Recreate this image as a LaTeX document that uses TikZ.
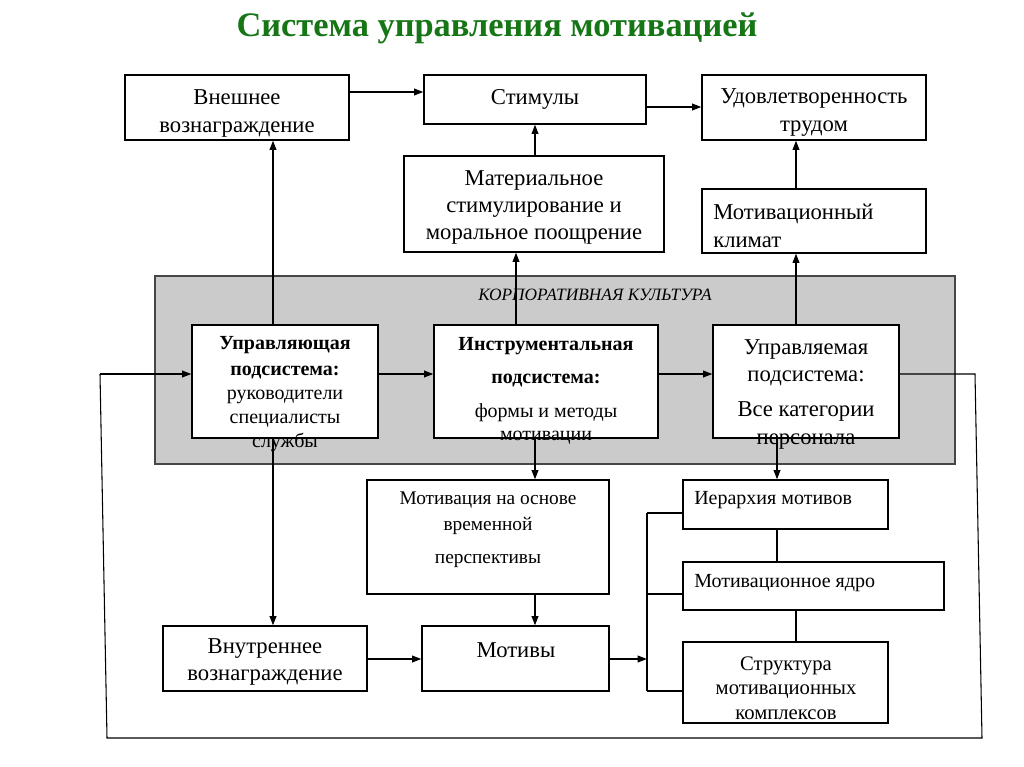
\documentclass[tikz,border=0pt]{standalone}
\usepackage{fontspec}
\setmainfont{Liberation Serif}
\usetikzlibrary{arrows.meta,fit}
\definecolor{titlegreen}{RGB}{22,118,22}
\definecolor{corpgray}{RGB}{203,203,203}
\definecolor{corpedge}{RGB}{70,70,70}
\begin{document}
\begin{tikzpicture}[x=0.75pt,y=-0.75pt,
  box/.style={draw,line width=0.9pt,fill=white,inner sep=0pt},
  corpbox/.style={draw=corpedge,line width=0.9pt,fill=corpgray,inner sep=0pt},
  txt/.style={inner sep=0pt,align=center},
  arr/.style={-{Triangle[length=7pt,width=5pt]},line width=1.2pt},
  thin/.style={line width=0.8pt},
  fbk/.style={line width=0.8pt}]
\useasboundingbox (0,0) rectangle (1024,767);
\fill[white] (0,0) rectangle (1024,767);

% title
\node[txt,font=\fontsize{25.8}{30}\selectfont\bfseries,text=titlegreen] (title) at (497,28) {Система управления мотивацией};

% top row
\node[box,fit={(125,75)(349,140)}] (ext) {};
\node[box,fit={(424,75)(646,124)}] (stim) {};
\node[box,fit={(702,75)(926,140)}] (udov) {};
\node[box,fit={(404,156)(664,252)}] (mat) {};
\node[box,fit={(702,189)(926,253)}] (clim) {};

% corporate culture
\node[corpbox,fit={(155,276)(955,464)}] (corp) {};
\node[txt,font=\fontsize{13}{15}\selectfont\itshape] (corpt) at (595,295) {КОРПОРАТИВНАЯ КУЛЬТУРА};
\node[box,fit={(192,325)(378,438)}] (upr) {};
\node[box,fit={(434,325)(658,438)}] (ins) {};
\node[box,fit={(713,325)(899,438)}] (upm) {};

% lower part
\node[box,fit={(367,480)(609,594)}] (mtv) {};
\node[box,fit={(683,480)(888,529)}] (ier) {};
\node[box,fit={(683,562)(944,610)}] (yad) {};
\node[box,fit={(683,642)(888,723)}] (str) {};
\node[box,fit={(163,626)(367,691)}] (vnu) {};
\node[box,fit={(422,626)(609,691)}] (mot) {};

% texts
\node[txt,font=\fontsize{17}{21}\selectfont] (extt) at (237,113) {Внешнее\\вознаграждение};
\node[txt,font=\fontsize{17}{21}\selectfont] (stimt) at (535,99) {Стимулы};
\node[txt,font=\fontsize{17}{21}\selectfont] (udovt) at (814,113) {Удовлетворенность\\трудом};
\node[txt,font=\fontsize{17}{20.25}\selectfont] (matt) at (534,207) {Материальное\\стимулирование и\\моральное поощрение};
\node[txt,align=left,anchor=west,font=\fontsize{17}{21}\selectfont] (climt) at (713,226) {Мотивационный\\климат};

\node[txt,font=\fontsize{15}{18}\selectfont] (uprt) at (285,394) {\textbf{Управляющая}\\[1.5pt]\textbf{подсистема:}\\руководители\\специалисты\\службы};
\node[txt,font=\fontsize{15}{17.5}\selectfont] (inst) at (546,391) {\textbf{Инструментальная}\\[7pt]\textbf{подсистема:}\\[8pt]формы и методы\\мотивации};
\node[txt,font=\fontsize{17}{20.5}\selectfont] (upmt) at (806,394) {Управляемая\\подсистема:\\[6pt]Все категории\\персонала};

\node[txt,font=\fontsize{14.5}{19}\selectfont] (mtvt) at (488,530) {Мотивация на основе\\временной\\[6pt]перспективы};
\node[txt,anchor=west,font=\fontsize{15}{18}\selectfont] (iert) at (694,500) {Иерархия мотивов};
\node[txt,anchor=west,font=\fontsize{15}{18}\selectfont] (yadt) at (694,583) {Мотивационное ядро};
\node[txt,font=\fontsize{15.5}{18.5}\selectfont] (strt) at (786,688) {Структура\\мотивационных\\комплексов};
\node[txt,font=\fontsize{17}{20}\selectfont] (vnut) at (265,662) {Внутреннее\\вознаграждение};
\node[txt,font=\fontsize{17}{20}\selectfont] (mott) at (516,650) {Мотивы};

% helper coordinates
\coordinate (h92) at (0,92);
\coordinate (h107) at (0,107);
\coordinate (h374) at (0,374);
\coordinate (h658) at (0,659);
\coordinate (v273) at (273,0);
\coordinate (v516) at (516,0);
\coordinate (v535) at (535,0);
\coordinate (v776) at (777,0);
\coordinate (v796) at (796,0);

% top arrows
\draw[arr] (ext.east |- h92) -- (stim.west |- h92);
\draw[arr] (stim.east |- h107) -- (udov.west |- h107);
\draw[arr] (mat.north -| v535) -- (stim.south -| v535);
\draw[arr] (clim.north -| v796) -- (udov.south -| v796);
\draw[arr] (upr.north -| v273) -- (ext.south -| v273);
\draw[arr] (ins.north -| v516) -- (mat.south -| v516);
\draw[arr] (upm.north -| v796) -- (clim.south -| v796);

% middle arrows
\draw[arr] (upr.east |- h374) -- (ins.west |- h374);
\draw[arr] (ins.east |- h374) -- (upm.west |- h374);

% down arrows
\draw[arr] (upr.south -| v273) -- (vnu.north -| v273);
\draw[arr] (ins.south -| v535) -- (mtv.north -| v535);
\draw[arr] (upm.south -| v776) -- (ier.north -| v776);
\draw[arr] (mtv.south -| v535) -- (mot.north -| v535);
\draw[arr] (vnu.east |- h658) -- (mot.west |- h658);

% bracket
\coordinate (bt) at (647,513);
\coordinate (bm) at (647,594);
\coordinate (bb) at (647,691);
\coordinate (ba) at (647,659);
\draw[arr] (mot.east |- h658) -- (ba);
\draw[thin] (bt) -- (bb);
\draw[thin] (bt) -- (ier.west |- bt);
\draw[thin] (bm) -- (yad.west |- bm);
\draw[thin] (bb) -- (str.west |- bb);
\draw[thin] (ier.south -| v776) -- (yad.north -| v776);
\draw[thin] (yad.south -| v796) -- (str.north -| v796);

% feedback loop
\coordinate (f1) at (975,374);
\coordinate (f2) at (982,738);
\coordinate (f3) at (107,738);
\coordinate (f4) at (100,374);
\draw[fbk] (upm.east |- h374) -- (f1) -- (f2) -- (f3) -- (f4);
\draw[arr] (f4) -- (upr.west |- h374);
\end{tikzpicture}
\end{document}
